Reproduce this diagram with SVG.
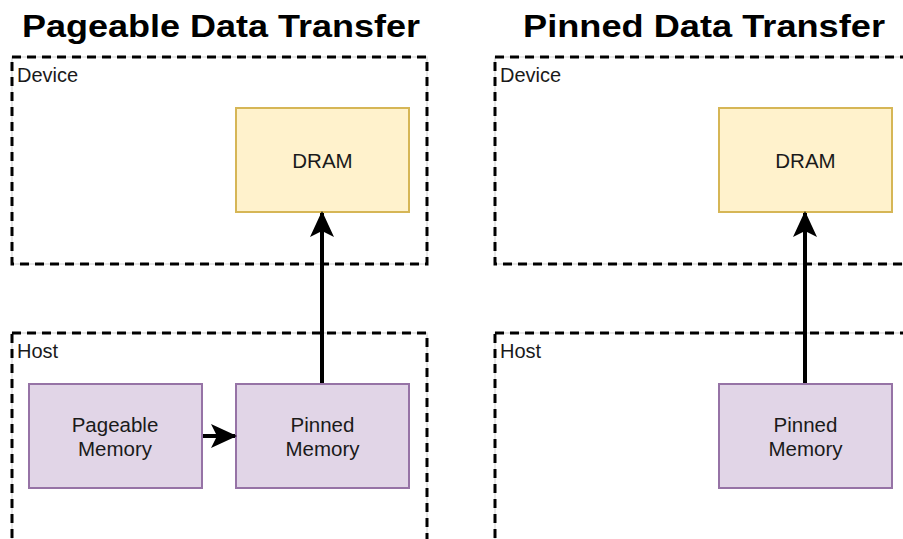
<svg xmlns="http://www.w3.org/2000/svg" width="903" height="539" viewBox="0 0 903 539">
  <defs>
    <style>
      .title { font-family: "Liberation Sans", Arial, sans-serif; font-weight: bold; font-size: 31px; fill: #000; text-anchor: middle; }
      .zone-guide { fill: none; stroke: #d0d0d0; stroke-width: 1; }
      .zone { fill: none; stroke: #000; stroke-width: 3; stroke-dasharray: 9 6; }
      .zone-label { font-family: "Liberation Sans", Arial, sans-serif; font-size: 20px; fill: #1a1a1a; }
      .dram { fill: #fff2cc; stroke: #d6b656; stroke-width: 2; }
      .mem { fill: #e1d5e7; stroke: #9673a6; stroke-width: 2; }
      .node-label { font-family: "Liberation Sans", Arial, sans-serif; font-size: 20.5px; fill: #1a1a1a; text-anchor: middle; }
      .link { stroke: #000; stroke-width: 4; fill: none; }
    </style>
    <marker id="arrow" viewBox="0 0 26 24" refX="24" refY="12" markerWidth="26" markerHeight="24" markerUnits="userSpaceOnUse" orient="auto">
      <path d="M0,0 L26,12 L0,24 L6,12 Z" fill="#000"/>
    </marker>
  </defs>

  <!-- headings -->
  <text class="title" x="221" y="37" textLength="398" lengthAdjust="spacingAndGlyphs">Pageable Data Transfer</text>
  <text class="title" x="704" y="37" textLength="362" lengthAdjust="spacingAndGlyphs">Pinned Data Transfer</text>

  <!-- pageable side: device and host zones -->
  <g id="pageable-device">
    <rect class="zone-guide" x="12" y="57" width="415" height="207"/>
    <rect class="zone" x="12" y="57" width="415" height="207"/>
    <text class="zone-label" x="17" y="82">Device</text>
  </g>
  <g id="pageable-host">
    <rect class="zone-guide" x="12" y="333" width="415" height="220"/>
    <rect class="zone" x="12" y="333" width="415" height="220"/>
    <text class="zone-label" x="17" y="358">Host</text>
  </g>

  <!-- pinned side: device and host zones -->
  <g id="pinned-device">
    <rect class="zone-guide" x="495" y="57" width="430" height="207"/>
    <rect class="zone" x="495" y="57" width="430" height="207"/>
    <text class="zone-label" x="500" y="82">Device</text>
  </g>
  <g id="pinned-host">
    <rect class="zone-guide" x="495" y="333" width="430" height="220"/>
    <rect class="zone" x="495" y="333" width="430" height="220"/>
    <text class="zone-label" x="500" y="358">Host</text>
  </g>

  <!-- memory nodes -->
  <g id="dram-left">
    <rect class="dram" x="236" y="108" width="173" height="104"/>
    <text class="node-label" x="322.5" y="168">DRAM</text>
  </g>
  <g id="pageable-memory">
    <rect class="mem" x="29" y="384" width="173" height="104"/>
    <text class="node-label" x="115" y="432">Pageable</text>
    <text class="node-label" x="115" y="456">Memory</text>
  </g>
  <g id="pinned-memory-left">
    <rect class="mem" x="236" y="384" width="173" height="104"/>
    <text class="node-label" x="322.5" y="432">Pinned</text>
    <text class="node-label" x="322.5" y="456">Memory</text>
  </g>
  <g id="dram-right">
    <rect class="dram" x="719" y="108" width="173" height="104"/>
    <text class="node-label" x="805.5" y="168">DRAM</text>
  </g>
  <g id="pinned-memory-right">
    <rect class="mem" x="719" y="384" width="173" height="104"/>
    <text class="node-label" x="805.5" y="432">Pinned</text>
    <text class="node-label" x="805.5" y="456">Memory</text>
  </g>

  <!-- transfers -->
  <g id="connectors">
    <line class="link" x1="203" y1="436" x2="235" y2="436" marker-end="url(#arrow)"/>
    <line class="link" x1="322" y1="383" x2="322" y2="213" marker-end="url(#arrow)"/>
    <line class="link" x1="805" y1="383" x2="805" y2="213" marker-end="url(#arrow)"/>
  </g>
</svg>
